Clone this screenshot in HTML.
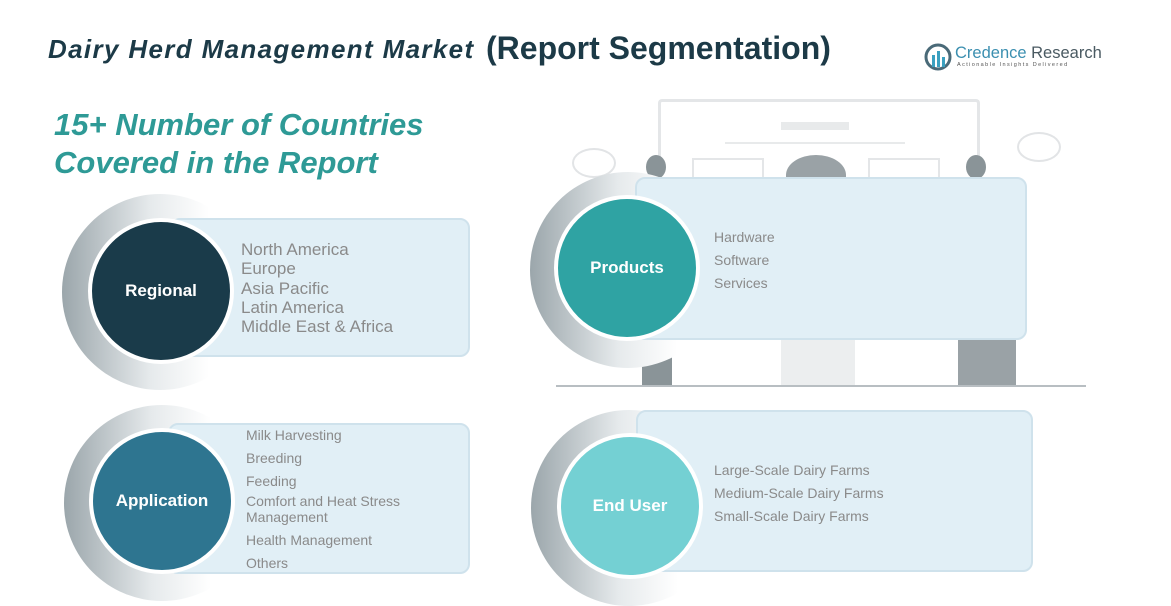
<!DOCTYPE html>
<html><head><meta charset="utf-8"><style>
body{margin:0;width:1171px;height:590px;background:#fff;position:relative;overflow:hidden;font-family:"Liberation Sans",sans-serif}
.a{position:absolute}
.box{position:absolute;background:#e1eff6;border:2px solid #cfe2ec;border-radius:10px;box-sizing:border-box}
.ring{position:absolute;border-radius:50%;background:linear-gradient(to right,#9ba6ab,#e6eaec 45%,#fff 75%)}
.c{position:absolute;border-radius:50%;border:4px solid #fff;box-sizing:border-box;color:#fff;font-weight:bold;font-size:17px;display:flex;align-items:center;justify-content:center}
.it{position:absolute;color:#8a8a8a;white-space:nowrap}
</style></head><body>
<div class="a" style="left:48px;top:34px;font-size:26px;letter-spacing:1.35px;font-weight:bold;font-style:italic;color:#1c3a47;white-space:nowrap">Dairy Herd Management Market</div>
<div class="a" style="left:486px;top:30px;font-size:32px;letter-spacing:0px;font-weight:bold;color:#1c3a47;white-space:nowrap">(Report Segmentation)</div>
<svg class="a" style="left:924px;top:43px" width="28" height="28"><circle cx="14" cy="14" r="12" fill="none" stroke="#4a6a78" stroke-width="3"/><rect x="8" y="12" width="3" height="12" fill="#3aa0c0"/><rect x="13" y="8" width="3" height="16" fill="#3aa0c0"/><rect x="18" y="14" width="3" height="10" fill="#3aa0c0"/></svg>
<div class="a" style="left:955px;top:44px;font-size:16.5px;color:#3b8fb0;white-space:nowrap">Credence <span style="color:#4a5a62">Research</span></div>
<div class="a" style="left:957px;top:62px;font-size:5.5px;letter-spacing:1.4px;color:#555;white-space:nowrap">Actionable Insights Delivered</div>
<div class="a" style="left:54px;top:106px;font-size:31px;line-height:38px;font-weight:bold;font-style:italic;color:#2e9a96;white-space:nowrap">15+ Number of Countries<br>Covered in the Report</div>
<!-- illustration -->
<div class="a" style="left:658px;top:99px;width:316px;height:90px;border:3px solid #e4e6e8;border-bottom:none;border-radius:4px"></div>
<div class="a" style="left:781px;top:122px;width:68px;height:8px;background:#e8eaeb"></div>
<div class="a" style="left:725px;top:142px;width:180px;height:2px;background:#e8eaeb"></div>
<div class="a" style="left:692px;top:158px;width:68px;height:22px;border:2px solid #e4e6e8"></div>
<div class="a" style="left:868px;top:158px;width:68px;height:22px;border:2px solid #e4e6e8"></div>
<div class="a" style="left:786px;top:155px;width:60px;height:40px;border-radius:50% 50% 0 0;background:#9aa2a6"></div>
<div class="a" style="left:572px;top:148px;width:40px;height:26px;border:2px solid #e2e4e6;border-radius:50%"></div>
<div class="a" style="left:1017px;top:132px;width:40px;height:26px;border:2px solid #e2e4e6;border-radius:50%"></div>
<div class="a" style="left:646px;top:155px;width:20px;height:24px;border-radius:50%;background:#8a9498"></div>
<div class="a" style="left:966px;top:155px;width:20px;height:24px;border-radius:50%;background:#8a9498"></div>
<div class="a" style="left:781px;top:340px;width:74px;height:46px;background:#eceeef"></div>
<div class="a" style="left:642px;top:340px;width:30px;height:46px;background:#8a9498"></div>
<div class="a" style="left:958px;top:340px;width:58px;height:46px;background:#9aa2a6"></div>
<div class="a" style="left:556px;top:385px;width:530px;height:2px;background:#b8bec2"></div>
<!-- Regional -->
<div class="ring" style="left:62px;top:194px;width:196px;height:196px"></div>
<div class="box" style="left:170px;top:218px;width:300px;height:139px"></div>
<div class="c" style="left:88px;top:218px;width:146px;height:146px;background:#1a3b4a">Regional</div>
<div class="it" style="left:241px;top:240px;font-size:17px;line-height:19.3px">North America<br>Europe<br>Asia Pacific<br>Latin America<br>Middle East &amp; Africa</div>
<!-- Application -->
<div class="ring" style="left:64px;top:405px;width:196px;height:196px"></div>
<div class="box" style="left:168px;top:423px;width:302px;height:151px"></div>
<div class="c" style="left:89px;top:428px;width:146px;height:146px;background:#2e7590">Application</div>
<div class="it" style="left:246px;top:424px;font-size:14px;line-height:23px">Milk Harvesting<br>Breeding<br>Feeding<br><span style="line-height:16px;display:inline-block">Comfort and Heat Stress<br>Management</span><br>Health Management<br>Others</div>
<!-- Products -->
<div class="ring" style="left:530px;top:172px;width:196px;height:196px"></div>
<div class="box" style="left:635px;top:177px;width:392px;height:163px"></div>
<div class="c" style="left:554px;top:195px;width:146px;height:146px;background:#2fa3a3">Products</div>
<div class="it" style="left:714px;top:226px;font-size:14px;line-height:23px">Hardware<br>Software<br>Services</div>
<!-- End User -->
<div class="ring" style="left:531px;top:410px;width:196px;height:196px"></div>
<div class="box" style="left:636px;top:410px;width:397px;height:162px"></div>
<div class="c" style="left:557px;top:433px;width:146px;height:146px;background:#74d0d3">End User</div>
<div class="it" style="left:714px;top:459px;font-size:14px;line-height:23px">Large-Scale Dairy Farms<br>Medium-Scale Dairy Farms<br>Small-Scale Dairy Farms</div>
</body></html>
